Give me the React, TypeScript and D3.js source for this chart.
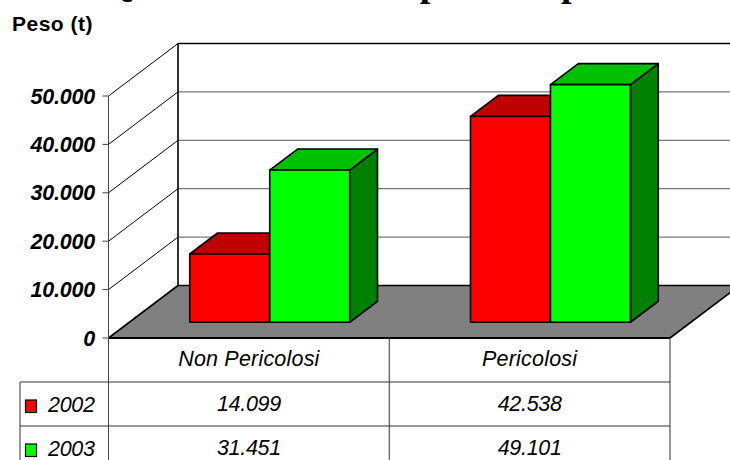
import React from "react";
import * as d3 from "d3";

const categories = ["Non Pericolosi", "Pericolosi"];
const seriesNames = ["2002", "2003"];
const values2002 = [14099, 42538];
const values2003 = [31451, 49101];
const yTicks = [0, 10000, 20000, 30000, 40000, 50000];
const titleText = "Quantità di rifiuti speciali e pericolosi";
const axisTitle = "Peso (t)";

const W = 730;
const H = 460;

const itLocale = d3.formatLocale({ decimal: ",", thousands: ".", grouping: [3], currency: ["€", ""] });
const fmt = itLocale.format(",d");

export default function App() {
  const x0 = 108.5;
  const x1 = 670;
  const yBase = 338;
  const depthX = 69.5;
  const depthY = -52.5;
  const frontF = 0.3;
  const barF = 0.4;

  const yScale = d3.scaleLinear().domain([0, 50000]).range([yBase, 96]);
  const xBand = d3.scaleBand<string>().domain(categories).range([x0, x1]).padding(0);
  const inner = d3
    .scaleBand<string>()
    .domain(seriesNames)
    .range([0, xBand.bandwidth()])
    .paddingInner(0)
    .paddingOuter(0.755);

  const series = [
    { name: "2002", values: values2002, front: "#FF0000", top: "#C00000", side: "#800000" },
    { name: "2003", values: values2003, front: "#00FF00", top: "#00C000", side: "#008000" },
  ];

  const fx = frontF * depthX;
  const fy = frontF * depthY;
  const bx = barF * depthX;
  const by = barF * depthY;

  const gridColor = "#555";
  const font = "'Liberation Sans', Arial, sans-serif";

  const bars: React.ReactNode[] = [];
  categories.forEach((cat, ci) => {
    series.forEach((s) => {
      const w = inner.bandwidth();
      const X = (xBand(cat) as number) + (inner(s.name) as number) + fx;
      const Y = yScale(s.values[ci]) + fy;
      const B = yBase + fy;
      const topPts = [
        [X, Y],
        [X + bx, Y + by],
        [X + w + bx, Y + by],
        [X + w, Y],
      ];
      const sidePts = [
        [X + w, Y],
        [X + w + bx, Y + by],
        [X + w + bx, B + by],
        [X + w, B],
      ];
      const pts = (p: number[][]) => p.map((q) => q.join(",")).join(" ");
      bars.push(
        <g key={cat + s.name} stroke="#000" strokeWidth={1.6} strokeLinejoin="round">
          <polygon points={pts(sidePts)} fill={s.side} />
          <polygon points={pts(topPts)} fill={s.top} />
          <rect x={X} y={Y} width={w} height={B - Y} fill={s.front} />
        </g>
      );
    });
  });

  const backLeft = x0 + depthX;
  const backRight = x1 + depthX;

  const rowTop = yBase;
  const rowH = 44;
  const colEdges = [x0, ...categories.map((c) => (xBand(c) as number) + xBand.bandwidth())];

  return (
    <svg width={W} height={H} style={{ position: "absolute", left: 0, top: 0 }}>
      <rect x={0} y={0} width={W} height={H} fill="#fff" />
      <text x={104} y={-4} fontFamily="'Liberation Serif', 'Times New Roman', serif" fontWeight="bold" fontSize={38} fill="#000">
        {titleText}
      </text>
      <text x={12} y={31} fontFamily={font} fontWeight="bold" fontSize={21} letterSpacing={0.5} fill="#000">
        {axisTitle}
      </text>

      {/* floor */}
      <polygon
        points={`${x0},${yBase} ${backLeft},${yBase + depthY} ${backRight},${yBase + depthY} ${x1},${yBase}`}
        fill="#808080"
        stroke="none"
      />
      {/* back wall gridlines */}
      {yTicks.map((t) => (
        <line
          key={"bg" + t}
          x1={backLeft}
          x2={backRight}
          y1={yScale(t) + depthY}
          y2={yScale(t) + depthY}
          stroke={t === 0 || t === 50000 ? "#000" : gridColor}
          strokeWidth={t === 0 || t === 50000 ? 1.6 : 1}
        />
      ))}
      {/* side wall diagonals */}
      {yTicks.map((t) => (
        <line
          key={"sg" + t}
          x1={x0}
          x2={backLeft}
          y1={yScale(t)}
          y2={yScale(t) + depthY}
          stroke="#000"
          strokeWidth={t === 0 ? 1.6 : 1}
        />
      ))}
      <line x1={backLeft} x2={backLeft} y1={yScale(50000) + depthY} y2={yBase + depthY} stroke="#000" strokeWidth={1.6} />
      <line x1={x1} x2={backRight} y1={yBase} y2={yBase + depthY} stroke="#000" strokeWidth={1.6} />

      {bars}

      {/* front floor edge */}
      <line x1={x0} x2={x1} y1={yBase} y2={yBase} stroke="#000" strokeWidth={2} />
      {/* value axis */}
      <line x1={x0} x2={x0} y1={yScale(50000)} y2={H} stroke="#444" strokeWidth={1} />
      {yTicks.map((t) => (
        <g key={"tk" + t}>
          <line x1={x0 - 6} x2={x0} y1={yScale(t)} y2={yScale(t)} stroke="#444" strokeWidth={1} />
          <text
            x={95}
            y={yScale(t) + 7.5}
            textAnchor="end"
            fontFamily={font}
            fontWeight="bold"
            fontStyle="italic"
            fontSize={21.5}
            letterSpacing={-0.2}
            fill="#000"
          >
            {fmt(t)}
          </text>
        </g>
      ))}

      {/* data table */}
      {colEdges.slice(1).map((cx, i) => (
        <line key={"cv" + i} x1={cx} x2={cx} y1={rowTop} y2={H} stroke="#333" strokeWidth={1} />
      ))}
      <line x1={20} x2={20} y1={rowTop + rowH} y2={H} stroke="#333" strokeWidth={1} />
      {[1, 2].map((r) => (
        <line key={"rh" + r} x1={20} x2={x1} y1={rowTop + rowH * r} y2={rowTop + rowH * r} stroke="#333" strokeWidth={1} />
      ))}
      {categories.map((c) => (
        <text
          key={"hc" + c}
          x={(xBand(c) as number) + xBand.bandwidth() / 2}
          y={rowTop + 28}
          textAnchor="middle"
          fontFamily={font}
          fontStyle="italic"
          fontSize={21.5}
          letterSpacing={0.2}
          fill="#000"
        >
          {c}
        </text>
      ))}
      {series.map((s, si) => {
        const ry = rowTop + rowH * (si + 1);
        return (
          <g key={"row" + s.name}>
            <rect x={25.5} y={ry + 18} width={11} height={12.5} fill={s.front} stroke="#000" strokeWidth={1.2} />
            <text x={48} y={ry + 30} fontFamily={font} fontStyle="italic" fontSize={21.5} letterSpacing={-0.3} fill="#000">
              {s.name}
            </text>
            {categories.map((c, ci) => (
              <text
                key={c}
                x={(xBand(c) as number) + xBand.bandwidth() / 2}
                y={ry + 29}
                textAnchor="middle"
                fontFamily={font}
                fontStyle="italic"
                fontSize={21.5}
                letterSpacing={-0.3}
                fill="#000"
              >
                {fmt(s.values[ci])}
              </text>
            ))}
          </g>
        );
      })}
    </svg>
  );
}
